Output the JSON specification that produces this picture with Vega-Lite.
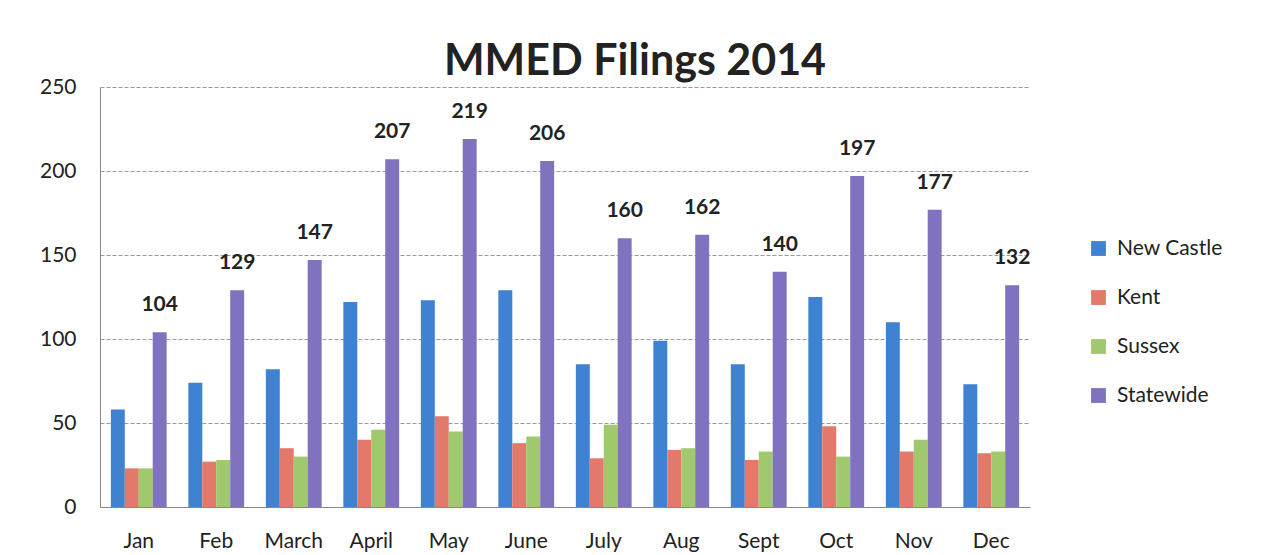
{
  "$schema": "https://vega.github.io/schema/vega-lite/v6.json",
  "autosize": "none",
  "width": 930,
  "height": 420,
  "padding": {"left": 100, "top": 87, "right": 232, "bottom": 48},
  "background": "white",
  "title": {
    "text": "MMED Filings 2014",
    "font": "Lato",
    "fontSize": 43,
    "fontWeight": "bold",
    "color": "#222222",
    "anchor": "middle",
    "dx": 70,
    "offset": -8
  },
  "data": {
    "values": [
      {"month": "Jan", "series": "New Castle", "value": 58},
      {"month": "Jan", "series": "Kent", "value": 23},
      {"month": "Jan", "series": "Sussex", "value": 23},
      {"month": "Jan", "series": "Statewide", "value": 104},
      {"month": "Feb", "series": "New Castle", "value": 74},
      {"month": "Feb", "series": "Kent", "value": 27},
      {"month": "Feb", "series": "Sussex", "value": 28},
      {"month": "Feb", "series": "Statewide", "value": 129},
      {"month": "March", "series": "New Castle", "value": 82},
      {"month": "March", "series": "Kent", "value": 35},
      {"month": "March", "series": "Sussex", "value": 30},
      {"month": "March", "series": "Statewide", "value": 147},
      {"month": "April", "series": "New Castle", "value": 122},
      {"month": "April", "series": "Kent", "value": 40},
      {"month": "April", "series": "Sussex", "value": 46},
      {"month": "April", "series": "Statewide", "value": 207},
      {"month": "May", "series": "New Castle", "value": 123},
      {"month": "May", "series": "Kent", "value": 54},
      {"month": "May", "series": "Sussex", "value": 45},
      {"month": "May", "series": "Statewide", "value": 219},
      {"month": "June", "series": "New Castle", "value": 129},
      {"month": "June", "series": "Kent", "value": 38},
      {"month": "June", "series": "Sussex", "value": 42},
      {"month": "June", "series": "Statewide", "value": 206},
      {"month": "July", "series": "New Castle", "value": 85},
      {"month": "July", "series": "Kent", "value": 29},
      {"month": "July", "series": "Sussex", "value": 49},
      {"month": "July", "series": "Statewide", "value": 160},
      {"month": "Aug", "series": "New Castle", "value": 99},
      {"month": "Aug", "series": "Kent", "value": 34},
      {"month": "Aug", "series": "Sussex", "value": 35},
      {"month": "Aug", "series": "Statewide", "value": 162},
      {"month": "Sept", "series": "New Castle", "value": 85},
      {"month": "Sept", "series": "Kent", "value": 28},
      {"month": "Sept", "series": "Sussex", "value": 33},
      {"month": "Sept", "series": "Statewide", "value": 140},
      {"month": "Oct", "series": "New Castle", "value": 125},
      {"month": "Oct", "series": "Kent", "value": 48},
      {"month": "Oct", "series": "Sussex", "value": 30},
      {"month": "Oct", "series": "Statewide", "value": 197},
      {"month": "Nov", "series": "New Castle", "value": 110},
      {"month": "Nov", "series": "Kent", "value": 33},
      {"month": "Nov", "series": "Sussex", "value": 40},
      {"month": "Nov", "series": "Statewide", "value": 177},
      {"month": "Dec", "series": "New Castle", "value": 73},
      {"month": "Dec", "series": "Kent", "value": 32},
      {"month": "Dec", "series": "Sussex", "value": 33},
      {"month": "Dec", "series": "Statewide", "value": 132}
    ]
  },
  "encoding": {
    "x": {
      "field": "month",
      "type": "nominal",
      "sort": ["Jan", "Feb", "March", "April", "May", "June", "July", "Aug", "Sept", "Oct", "Nov", "Dec"],
      "scale": {"paddingInner": 0.28, "paddingOuter": 0.14},
      "axis": {
        "title": null,
        "labelAngle": 0,
        "labelFont": "Lato",
        "labelFontSize": 21,
        "labelColor": "#222222",
        "labelPadding": 23,
        "ticks": false,
        "domainColor": "#888888",
        "domainWidth": 1
      }
    },
    "xOffset": {
      "field": "series",
      "type": "nominal",
      "sort": ["New Castle", "Kent", "Sussex", "Statewide"]
    },
    "y": {
      "field": "value",
      "type": "quantitative",
      "scale": {"domain": [0, 250]},
      "axis": {
        "title": null,
        "values": [0, 50, 100, 150, 200, 250],
        "labelFont": "Lato",
        "labelFontSize": 21,
        "labelColor": "#222222",
        "labelPadding": 24,
        "ticks": false,
        "domainColor": "#888888",
        "gridColor": "#9a9a9a",
        "gridDash": [4, 2],
        "gridWidth": 1
      }
    }
  },
  "layer": [
    {
      "mark": {"type": "bar", "width": {"band": 1}},
      "encoding": {
        "color": {
          "field": "series",
          "type": "nominal",
          "sort": ["New Castle", "Kent", "Sussex", "Statewide"],
          "scale": {
            "domain": ["New Castle", "Kent", "Sussex", "Statewide"],
            "range": ["#3f82d2", "#e2796b", "#a0c86c", "#8172bf"]
          },
          "legend": {
            "title": null,
            "orient": "none",
            "legendX": 988,
            "legendY": 151,
            "symbolType": "square",
            "symbolSize": 220,
            "symbolStrokeWidth": 0,
            "labelFont": "Lato",
            "labelFontSize": 21,
            "labelColor": "#222222",
            "rowPadding": 27,
            "labelOffset": 8
          }
        }
      }
    },
    {
      "transform": [{"filter": "datum.series == 'Statewide'"}],
      "mark": {
        "type": "text",
        "font": "Lato",
        "fontSize": 21,
        "fontWeight": "bold",
        "color": "#222222",
        "baseline": "bottom",
        "dy": -17
      },
      "encoding": {
        "text": {"field": "value", "type": "quantitative"}
      }
    }
  ],
  "config": {
    "view": {"stroke": null}
  }
}
